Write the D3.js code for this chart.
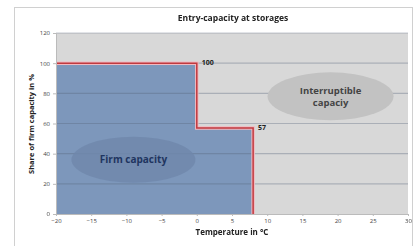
<!DOCTYPE html>
<meta charset="utf-8">
<style>
body { margin: 0; background: #fff; }
svg { display: block; filter: blur(0.35px); }
text { font-family: "Open Sans", "Liberation Sans", sans-serif; }
.tick text { font-size: 6px; fill: #444; }
.bold { font-weight: bold; }
</style>
<svg width="417" height="246"></svg>
<script src="https://cdn.jsdelivr.net/npm/d3@7"></script>
<script>

// step profile of firm entry capacity vs temperature
var temps = [-20, 0, 0, 8, 8];
var shares = [100, 100, 57, 57, 0];
var stepLabels = [{t: 0, v: 100, text: "100"}, {t: 8, v: 57, text: "57"}];
var xTicks = [-20, -15, -10, -5, 0, 5, 10, 15, 20, 25, 30];
var yTicks = [0, 20, 40, 60, 80, 100, 120];

var svg = d3.select("svg");
var margin = {left: 56, top: 33, right: 9, bottom: 32};
var width = 417 - margin.left - margin.right,
    height = 246 - margin.top - margin.bottom;

// outer frame
svg.append("rect")
    .attr("x", 14.5).attr("y", 7.5)
    .attr("width", 398).attr("height", 250)
    .attr("fill", "#fff").attr("stroke", "#d0d0d0");

var x = d3.scaleLinear().domain([-20, 30]).range([0, width]);
var y = d3.scaleLinear().domain([0, 120]).range([height, 0]);

var g = svg.append("g").attr("transform", "translate(" + margin.left + "," + margin.top + ")");

g.append("rect").attr("width", width).attr("height", height).attr("fill", "#d8d8d8");

var pts = temps.map(function(t, i) { return [t, shares[i]]; });

// firm area
g.append("path")
    .datum(pts)
    .attr("fill", "#7d97bb")
    .attr("d", d3.area().x(function(d) { return x(d[0]); }).y0(height).y1(function(d) { return y(d[1]); }));

// grid lines
g.selectAll(".grid").data(yTicks.filter(function(v) { return v > 0; }))
  .enter().append("line")
    .attr("x1", 0).attr("x2", width)
    .attr("y1", function(d) { return y(d); }).attr("y2", function(d) { return y(d); })
    .attr("stroke", "#55657a").attr("stroke-opacity", 0.35).attr("stroke-width", 1.2);

// ellipses
g.append("ellipse")
    .attr("cx", x(-9)).attr("cy", y(36)).attr("rx", 62).attr("ry", 23)
    .attr("fill", "#6f87ab").attr("opacity", 0.8);
g.append("ellipse")
    .attr("cx", x(19)).attr("cy", y(78)).attr("rx", 63).attr("ry", 24)
    .attr("fill", "#c2c2c2");

// red outline
var line = d3.line().x(function(d) { return x(d[0]); }).y(function(d) { return y(d[1]); });
g.append("path").datum(pts).attr("d", line)
    .attr("fill", "none").attr("stroke", "#f2b8bf").attr("stroke-width", 3.5);
g.append("path").datum(pts).attr("d", line)
    .attr("fill", "none").attr("stroke", "#c0393f").attr("stroke-width", 1.5);

// value labels
g.selectAll(".vl").data(stepLabels).enter().append("text")
    .attr("class", "bold")
    .attr("x", function(d) { return x(d.t) + 5; })
    .attr("y", function(d) { return y(d.v) + 2; })
    .attr("font-size", 7).attr("fill", "#222")
    .text(function(d) { return d.text; });

g.append("text").attr("class", "bold")
    .attr("x", x(-9)).attr("y", y(36) + 3.5)
    .attr("text-anchor", "middle").attr("font-size", 10).attr("fill", "#1f3560")
    .text("Firm capacity");
g.append("text").attr("class", "bold")
    .attr("x", x(19)).attr("y", y(78) - 2.5)
    .attr("text-anchor", "middle").attr("font-size", 9.5).attr("fill", "#444")
    .text("Interruptible");
g.append("text").attr("class", "bold")
    .attr("x", x(19)).attr("y", y(78) + 10)
    .attr("text-anchor", "middle").attr("font-size", 9.5).attr("fill", "#444")
    .text("capaciy");

// axes
var xAxis = g.append("g").attr("transform", "translate(0," + height + ")")
    .call(d3.axisBottom(x).tickValues(xTicks).tickSize(2).tickPadding(3));
var yAxis = g.append("g")
    .call(d3.axisLeft(y).tickValues(yTicks).tickSize(3).tickPadding(3));
[xAxis, yAxis].forEach(function(a) {
  a.select(".domain").attr("stroke", "#bbb");
  a.selectAll(".tick line").attr("stroke", "#bbb");
});

svg.append("text").attr("class", "bold")
    .attr("x", 233).attr("y", 21)
    .attr("text-anchor", "middle").attr("font-size", 8.5).attr("fill", "#222")
    .text("Entry-capacity at storages");
svg.append("text").attr("class", "bold")
    .attr("x", 232).attr("y", 235)
    .attr("text-anchor", "middle").attr("font-size", 8).attr("fill", "#222")
    .text("Temperature in °C");
svg.append("text").attr("class", "bold")
    .attr("transform", "translate(34," + 124 + ") rotate(-90)")
    .attr("text-anchor", "middle").attr("font-size", 7.5).attr("fill", "#222")
    .text("Share of firm capacity in %");

</script>
